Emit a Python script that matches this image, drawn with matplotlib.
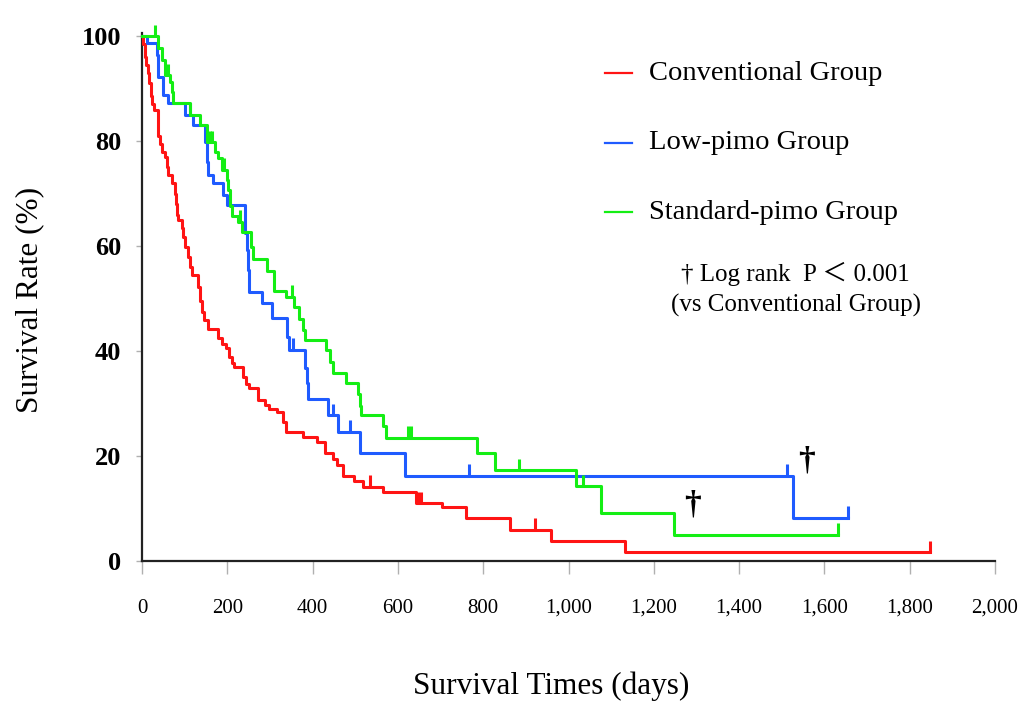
import matplotlib
matplotlib.use("Agg")
import matplotlib.pyplot as plt
from matplotlib.lines import Line2D

plt.rcParams["font.family"] = ["Liberation Serif", "Noto Sans CJK JP"]

# Kaplan-Meier step data (days, survival %)
red_days = [0, 2.3, 7, 9.4, 14, 16.4, 21, 23.4, 28, 37.5, 42, 47, 54, 58.6, 61, 70, 77, 80, 82, 84,
            94, 96, 101, 108, 112.5, 117, 131, 136, 141, 145, 155, 178, 188, 197, 204, 211, 216, 237,
            244, 251, 272, 288, 298, 317, 331, 338, 377, 410, 429, 448, 457, 471, 497, 518, 565, 642,
            703, 760, 863, 959, 1132]
red_surv = [100, 98.5, 96, 94.5, 93, 91, 88.5, 87, 86, 81, 79.5, 78, 77, 75, 73.5, 72, 70, 68, 66, 65,
            63.5, 61.7, 59.8, 58, 56, 54.5, 52.2, 49.5, 47.5, 46, 44.2, 42.5, 41.3, 40.5, 38.9, 37.8, 37,
            35, 33.8, 33, 30.7, 29.8, 29, 28.4, 26.5, 24.6, 23.6, 22.7, 20.6, 19.4, 18.2, 16.2, 15.2,
            14.1, 13.1, 11.0, 10.2, 8.2, 5.9, 3.8, 1.7]
red_end = 1848
red_cens_days = [535, 647, 654, 921, 1848]
red_cens_surv = [14.1, 11.0, 11.0, 5.9, 1.7]

blue_days = [0, 11.7, 35, 37.5, 49, 61, 101, 120, 148, 152, 155, 166, 190, 199, 241.5, 246, 248.5,
             251, 281, 305, 340, 345, 382, 387, 389, 436, 459.5, 511, 617, 1526]
blue_surv = [100, 98.6, 96.4, 92.2, 88.8, 87.2, 85, 83, 79.8, 76, 73.5, 72, 69.7, 67.8, 62.5, 59.2,
             55.4, 51.2, 49.2, 46.3, 42.7, 40.2, 36.8, 33.9, 30.9, 27.8, 24.6, 20.6, 16.2, 8.2]
blue_end = 1655
blue_cens_days = [112.5, 354, 448, 487.7, 767, 1512, 1655]
blue_cens_surv = [85, 40.2, 27.8, 24.6, 16.2, 16.2, 8.2]

green_days = [0, 37.5, 47, 54, 65.7, 70, 72.7, 112.5, 136, 152, 171, 178, 187.6, 199, 201.6, 206,
              211, 225, 234.5, 255.6, 260, 293, 309.5, 337.6, 356, 368, 377.5, 382, 431, 441, 448,
              478, 506, 511, 513.5, 565, 572, 785.5, 827.7, 1017.6, 1076, 1247]
green_surv = [100, 97.7, 95.4, 92.5, 91.2, 89.3, 87.2, 85, 83, 79.8, 78, 76.8, 74.5, 72.6, 70.7, 67.6,
              65.7, 64.6, 62.7, 59.8, 57.5, 55.2, 51.4, 50.3, 48.3, 46.1, 44, 42.1, 40.2, 37.9, 35.9,
              33.9, 31.8, 29.5, 27.8, 25.7, 23.5, 20.6, 17.3, 14.2, 9.1, 5.0]
green_end = 1632
green_cens_days = [30.5, 61, 159, 164, 192, 230, 351.7, 623.7, 630.7, 884, 1034, 1632]
green_cens_surv = [100, 92.5, 79.8, 79.8, 74.5, 64.6, 50.3, 23.5, 23.5, 17.3, 14.2, 5.0]

labels = ["Conventional Group", "Low-pimo Group", "Standard-pimo Group"]
colors = ["#ff1414", "#1f5bff", "#14ee14"]
x_ticks = list(range(0, 2001, 200))
y_ticks = [0, 20, 40, 60, 80, 100]

groups = [
    (red_days, red_surv, red_end, red_cens_days, red_cens_surv),
    (blue_days, blue_surv, blue_end, blue_cens_days, blue_cens_surv),
    (green_days, green_surv, green_end, green_cens_days, green_cens_surv),
]

fig = plt.figure(figsize=(10.26, 7.01), dpi=100)
ax = fig.add_axes([0.1384, 0.1997, 0.8314, 0.7526])

for (d, s, end, cd, cs), col in zip(groups, colors):
    ax.step(d + [end], s + [s[-1]], where="post", color=col, lw=2.2, clip_on=False, zorder=3)
    ax.vlines(cd, cs, [v + 2.2 for v in cs], color=col, lw=2.2, clip_on=False, zorder=3)

ax.set_xlim(0, 2000)
ax.set_ylim(0, 100.5)
ax.spines["top"].set_visible(False)
ax.spines["right"].set_visible(False)
for side in ["left", "bottom"]:
    ax.spines[side].set_linewidth(1.6)
    ax.spines[side].set_color("#222222")

ax.set_xticks(x_ticks)
ax.set_xticklabels([f"{v:,}" for v in x_ticks], fontsize=15)
ax.set_yticks(y_ticks)
ax.set_yticklabels([str(v) for v in y_ticks], fontsize=19, fontweight="bold")
ax.tick_params(axis="x", direction="out", length=9, width=1, color="#b0b0b0", pad=18)
ax.tick_params(axis="y", direction="out", length=4, width=1, color="#b0b0b0", pad=11)

fig.text(551 / 1026, 1 - 686 / 701, "Survival Times (days)", fontsize=22.5,
         ha="center", va="center")
fig.text(30 / 1026, 1 - 300 / 701, "Survival Rate (%)", fontsize=22.5,
         ha="center", va="center", rotation=90)

# legend drawn by hand to match spacing
for i, (lab, col) in enumerate(zip(labels, colors)):
    yy = 1 - (73 + i * 69.5) / 701
    fig.add_artist(Line2D([605 / 1026, 632 / 1026], [yy, yy], color=col, lw=1.6))
    fig.text(649 / 1026, yy, lab, fontsize=20.5, ha="left", va="center")

fig.text(795 / 1026, 1 - 274 / 701, "† Log rank  P ＜ 0.001", fontsize=18,
         ha="center", va="center")
fig.text(796 / 1026, 1 - 305 / 701, "(vs Conventional Group)", fontsize=18,
         ha="center", va="center")

ax.text(1559, 19.0, "†", fontsize=24, fontweight="bold", ha="center", va="center")
ax.text(1290, 10.7, "†", fontsize=24, fontweight="bold", ha="center", va="center")

fig.savefig("out.png", dpi=100)
